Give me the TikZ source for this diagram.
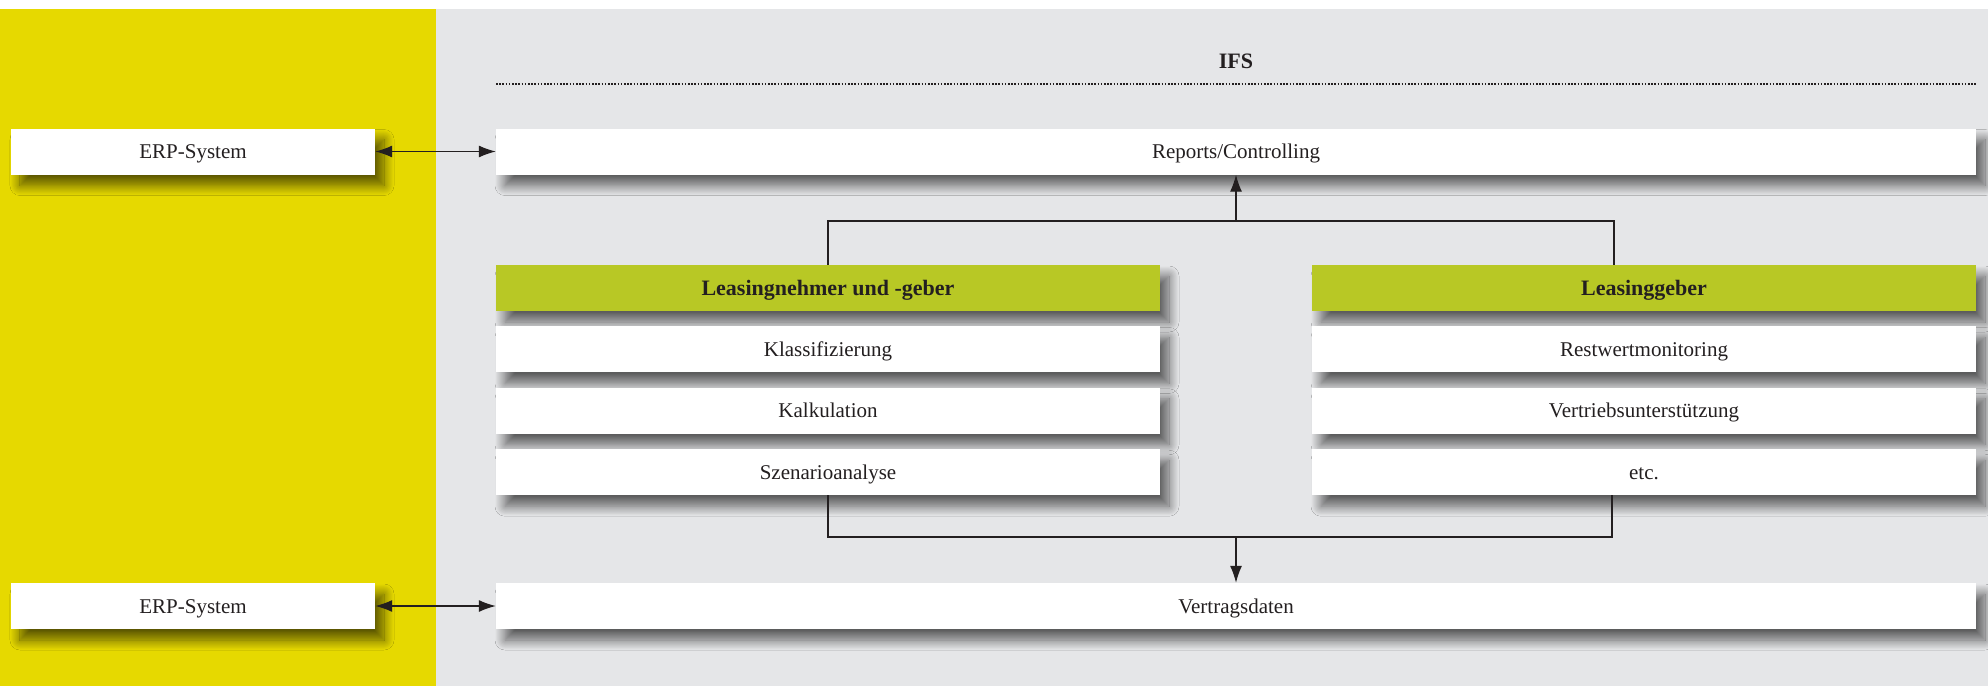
\documentclass[tikz,border=0pt]{standalone}
\usepackage{fontspec}
\setmainfont{Liberation Serif}
\usetikzlibrary{positioning,arrows.meta,shadows.blur}
\definecolor{erpyellow}{RGB}{230,217,0}
\definecolor{ifsgray}{RGB}{229,230,232}
\definecolor{leasegreen}{RGB}{184,200,37}
\definecolor{inkdark}{RGB}{35,31,32}

\begin{document}
\begin{tikzpicture}[x=1pt,y=-1pt,
    box/.style={fill=white,inner sep=0pt,minimum height=46pt,text=inkdark,
      text height=14pt,text depth=0pt,font=\fontsize{21}{24}\selectfont,
      blur shadow={shadow xshift=9pt,shadow yshift=-11pt,shadow blur radius=10pt,
        shadow blur steps=14,shadow opacity=60}},
    colbox/.style={box,minimum width=664pt},
    headbox/.style={colbox,fill=leasegreen,font=\fontsize{22}{24}\selectfont\bfseries},
    link/.style={draw=inkdark,line width=1.2pt},
    tip/.style={link,-{Latex[length=17pt,width=12pt]}},
    twotip/.style={link,{Latex[length=17pt,width=12pt]}-{Latex[length=17pt,width=12pt]}}]
    \useasboundingbox (0,0) rectangle (1988,686);
    \fill[white] (0,0) rectangle (1988,686);
    % panels
    \fill[erpyellow] (0,9) rectangle (436,686);
    \fill[ifsgray] (436,9) rectangle (1988,686);

    \node[font=\fontsize{22}{24}\selectfont\bfseries,text=inkdark] (ifs) at (1236,61) {IFS};
    \draw[inkdark,line width=1.6pt,dash pattern=on 1.6pt off 1.6pt] (496,84) -- (1976,84);

    % ERP and rows
    \node[box,minimum width=364pt] (erpA) at (193,151.5) {ERP-System};
    \node[box,minimum width=1480pt] (reports) at (1236,151.5) {Reports/Controlling};

    \node[headbox] (lhead) at (828,288) {Leasingnehmer und -geber};
    \node[colbox] (klass) [below=15pt of lhead] {Klassifizierung};
    \node[colbox] (kalk) [below=15pt of klass] {Kalkulation};
    \node[colbox] (szen) [below=15pt of kalk] {Szenarioanalyse};

    \node[headbox] (rhead) at (1644,288) {Leasinggeber};
    \node[colbox] (restwert) [below=15pt of rhead] {Restwertmonitoring};
    \node[colbox] (vertrieb) [below=15pt of restwert] {Vertriebsunterstützung};
    \node[colbox] (etc) [below=15pt of vertrieb] {etc.};

    \node[box,minimum width=364pt] (erpB) at (193,606) {ERP-System};
    \node[box,minimum width=1480pt] (vertrag) at (1236,606) {Vertragsdaten};

    % connectors
    \coordinate (topjoin) at (1236,221);
    \coordinate (botjoin) at (1236,537);
    \draw[link] (lhead.north) |- (topjoin) -| ([xshift=-30pt]rhead.north);
    \draw[tip] (topjoin) -- (topjoin |- reports.south);
    \draw[link] (szen.south) |- (botjoin) -| ([xshift=-32pt]etc.south);
    \draw[tip] (botjoin) -- (botjoin |- vertrag.north);
    \draw[twotip] (erpA) -- (reports);
    \draw[twotip] (erpB) -- (vertrag);
\end{tikzpicture}
\end{document}
